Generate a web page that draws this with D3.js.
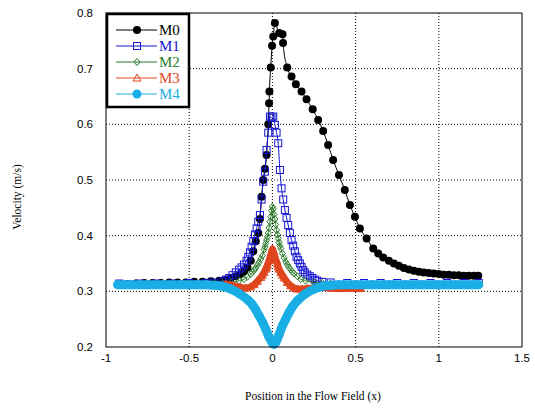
<!DOCTYPE html>
<html lang="en">
<head>
<meta charset="UTF-8">
<title>Velocity</title>
<script src="https://d3js.org/d3.v7.min.js"></script>
<style>
  body { margin: 0; background: #fff; }
  .tick-label { font: 11.5px 'Liberation Sans', Arial, sans-serif; fill: #000; }
  .axis-title { font: 11.5px 'Liberation Serif', 'Times New Roman', serif; fill: #000; }
  .legend-text { font: 15px 'Liberation Serif', 'Times New Roman', serif; }
</style>
</head>
<body>
<script>
// x ticks / y ticks
const xTicks = [-1, -0.5, 0, 0.5, 1, 1.5];
const yTicks = [0.2, 0.3, 0.4, 0.5, 0.6, 0.7, 0.8];
const seriesNames = ["M0", "M1", "M2", "M3", "M4"];

// M0
const m0x = [-0.92, -0.87, -0.82, -0.77, -0.72, -0.67, -0.62, -0.57, -0.52, -0.47, -0.42, -0.37, -0.32, -0.28, -0.25, -0.22,
  -0.19, -0.17, -0.15, -0.13, -0.115, -0.1, -0.085,
  -0.075, -0.065, -0.055, -0.045, -0.035, -0.025, -0.02, -0.018, -0.01, -0.002, 0.005, 0.015, 0.041, 0.061, 0.064,
  0.089, 0.115, 0.141, 0.175, 0.205, 0.242, 0.275, 0.305, 0.335, 0.365, 0.40, 0.435, 0.466, 0.496, 0.526, 0.566,
  0.606, 0.636, 0.666, 0.70, 0.73, 0.76, 0.79, 0.82, 0.85, 0.88, 0.91, 0.94, 0.97, 1.0, 1.03, 1.06, 1.09, 1.12,
  1.15, 1.18, 1.21, 1.237];
const m0y = [0.313, 0.313, 0.314, 0.315, 0.315, 0.315, 0.316, 0.316, 0.316, 0.317, 0.317, 0.318, 0.319, 0.321, 0.324, 0.327,
  0.331, 0.336, 0.343, 0.355, 0.372, 0.39, 0.405,
  0.43, 0.47, 0.50, 0.52, 0.545, 0.60, 0.638, 0.659, 0.702, 0.741, 0.758, 0.782, 0.764, 0.762, 0.746,
  0.702, 0.686, 0.672, 0.659, 0.645, 0.627, 0.608, 0.588, 0.563, 0.536, 0.509, 0.482, 0.455, 0.434, 0.413, 0.395,
  0.377, 0.368, 0.361, 0.355, 0.350, 0.346, 0.342, 0.339, 0.337, 0.335, 0.334, 0.333, 0.332, 0.331, 0.330, 0.330, 0.329, 0.329,
  0.328, 0.328, 0.328, 0.328];

// M1
const m1x = [-0.92, -0.8, -0.7, -0.6, -0.5, -0.4, -0.35, -0.3, -0.28, -0.26, -0.24, -0.22, -0.2, -0.185, -0.17, -0.155,
  -0.145, -0.135, -0.125, -0.115, -0.105, -0.095, -0.085, -0.075, -0.065, -0.055, -0.045, -0.035, -0.025, -0.015,
  -0.005, 0.005, 0.015, 0.025, 0.035, 0.045, 0.055, 0.065, 0.075, 0.085, 0.095, 0.105, 0.115, 0.125, 0.135, 0.145,
  0.155, 0.165, 0.175, 0.185, 0.195, 0.21, 0.225, 0.24, 0.255, 0.27, 0.3, 0.35, 0.45, 0.55, 0.65, 0.75, 0.85, 0.95,
  1.05, 1.15, 1.24];
const m1y = [0.314, 0.314, 0.314, 0.314, 0.315, 0.315, 0.316, 0.318, 0.321, 0.324, 0.329, 0.334, 0.339, 0.343, 0.348, 0.355,
  0.362, 0.37, 0.38, 0.39, 0.402, 0.413, 0.425, 0.437, 0.465, 0.497, 0.515, 0.554, 0.585, 0.614,
  0.612, 0.614, 0.599, 0.585, 0.566, 0.518, 0.485, 0.465, 0.446, 0.432, 0.419, 0.405, 0.392, 0.382, 0.372, 0.362,
  0.356, 0.35, 0.344, 0.338, 0.334, 0.33, 0.327, 0.324, 0.321, 0.319, 0.317, 0.316, 0.315, 0.315, 0.315, 0.315, 0.315, 0.315,
  0.315, 0.315, 0.315];

// M2
const m2x = [-0.92, -0.7, -0.5, -0.3, -0.25, -0.2, -0.17, -0.15, -0.13, -0.12, -0.11, -0.1, -0.09, -0.08, -0.07, -0.06,
  -0.05, -0.045, -0.04, -0.035, -0.03, -0.025, -0.02, -0.015, -0.01, -0.005, 0, 0.005, 0.01, 0.015, 0.02, 0.025,
  0.03, 0.035, 0.04, 0.045, 0.05, 0.06, 0.07, 0.08, 0.09, 0.1, 0.11, 0.12, 0.13, 0.15, 0.17, 0.2,
  0.25, 0.3, 0.35, 0.5, 0.7, 0.9, 1.1, 1.24];
const m2y = [0.314, 0.314, 0.314, 0.315, 0.316, 0.319, 0.322, 0.326, 0.331, 0.334, 0.338, 0.342, 0.347, 0.352, 0.358, 0.364,
  0.375, 0.38, 0.386, 0.392, 0.398, 0.405, 0.414, 0.425, 0.434, 0.445, 0.452, 0.448, 0.438, 0.43, 0.42, 0.41,
  0.402, 0.395, 0.388, 0.382, 0.377, 0.368, 0.36, 0.353, 0.348, 0.343, 0.339, 0.335, 0.332, 0.327, 0.322, 0.319,
  0.316, 0.315, 0.314, 0.314, 0.314, 0.314, 0.314, 0.314];

// M3
const m3x = [-0.28, -0.25, -0.22, -0.19, -0.16, -0.13, -0.11, -0.09, -0.07, -0.06, -0.05, -0.04, -0.035, -0.03, -0.02,
  -0.015, -0.01, -0.005, 0, 0.005, 0.01, 0.015, 0.02, 0.03, 0.035, 0.04, 0.05, 0.06, 0.07, 0.09, 0.11, 0.13, 0.15,
  0.18, 0.21, 0.25, 0.3, 0.35, 0.4, 0.45, 0.5, 0.53];
const m3y = [0.313, 0.311, 0.309, 0.307, 0.306, 0.308, 0.312, 0.318, 0.325, 0.329, 0.334, 0.34, 0.343, 0.347, 0.355,
  0.36, 0.365, 0.37, 0.376, 0.372, 0.368, 0.362, 0.357, 0.349, 0.344, 0.34, 0.334, 0.329, 0.324, 0.316, 0.31, 0.306, 0.304,
  0.304, 0.305, 0.306, 0.307, 0.306, 0.305, 0.305, 0.305, 0.305];

// M4
const m4x = [-0.93, -0.85, -0.75, -0.65, -0.55, -0.45, -0.4, -0.35, -0.3, -0.25, -0.2, -0.15, -0.12, -0.1, -0.08, -0.06,
  -0.04, -0.02, 0, 0.01, 0.02, 0.04, 0.06, 0.08, 0.1, 0.12, 0.15, 0.2, 0.25, 0.3, 0.35, 0.4, 0.5, 0.6, 0.7, 0.8, 0.9,
  1.0, 1.1, 1.2, 1.24];
const m4y = [0.312, 0.312, 0.312, 0.312, 0.312, 0.312, 0.312, 0.311, 0.309, 0.304, 0.296, 0.285, 0.276, 0.267, 0.256, 0.245,
  0.232, 0.218, 0.207, 0.205, 0.208, 0.222, 0.238, 0.25, 0.262, 0.272, 0.283, 0.296, 0.304, 0.309, 0.311, 0.312, 0.312,
  0.312, 0.312, 0.312, 0.312, 0.312, 0.312, 0.312, 0.312];

const colors = ["#000000", "#1414d2", "#2a7a2a", "#e0461e", "#1aaee6"];

var width = 535, height = 408;
var svg = d3.select('body').append('svg')
    .attr('width', width)
    .attr('height', height);

var x = d3.scaleLinear().domain([-1, 1.5]).range([106, 522]);
var y = d3.scaleLinear().domain([0.2, 0.8]).range([347, 13]);

// grid
var grid = svg.append("g");
grid.selectAll(".gx").data(xTicks.slice(1, -1)).join("line")
    .attr("x1", d => x(d)).attr("x2", d => x(d))
    .attr("y1", y(0.8)).attr("y2", y(0.2))
    .attr("stroke", "#000").attr("stroke-width", 1).attr("stroke-dasharray", "1,2");
grid.selectAll(".gy").data(yTicks.slice(1, -1)).join("line")
    .attr("x1", x(-1)).attr("x2", x(1.5))
    .attr("y1", d => y(d)).attr("y2", d => y(d))
    .attr("stroke", "#000").attr("stroke-width", 1).attr("stroke-dasharray", "1,2");

// tick labels
svg.selectAll(".xl").data(xTicks).join("text")
    .attr("class", "tick-label")
    .attr("x", d => x(d)).attr("y", 362)
    .attr("text-anchor", "middle")
    .text(d => String(d));
svg.selectAll(".yl").data(yTicks).join("text")
    .attr("class", "tick-label")
    .attr("x", 93).attr("y", d => y(d) + 4)
    .attr("text-anchor", "end")
    .text(d => d.toFixed(1));

svg.append("text").attr("class", "axis-title")
    .attr("x", 313).attr("y", 400).attr("text-anchor", "middle")
    .text("Position in the Flow Field (x)");
svg.append("text").attr("class", "axis-title")
    .attr("transform", "translate(21,197) rotate(-90)")
    .attr("text-anchor", "middle")
    .text("Velocity (m/s)");

var series = [
  { xs: m0x, ys: m0y, lw: 1 },
  { xs: m1x, ys: m1y, lw: 1 },
  { xs: m2x, ys: m2y, lw: 1 },
  { xs: m3x, ys: m3y, lw: 7 },
  { xs: m4x, ys: m4y, lw: 9 }
];

var line = d3.line().x(d => x(d[0])).y(d => y(d[1])).curve(d3.curveMonotoneX);

function marker(g, i, px, py) {
  var c = colors[i];
  if (i == 0) g.append("circle").attr("cx", px).attr("cy", py).attr("r", 4).attr("fill", c);
  else if (i == 1) g.append("rect").attr("x", px - 3.5).attr("y", py - 3.5).attr("width", 7).attr("height", 7)
      .attr("fill", "none").attr("stroke", c).attr("stroke-width", 1);
  else if (i == 2) g.append("path").attr("d", `M${px},${py - 3.5}L${px + 3},${py}L${px},${py + 3.5}L${px - 3},${py}Z`)
      .attr("fill", "none").attr("stroke", c).attr("stroke-width", 1);
  else if (i == 3) g.append("path").attr("d", `M${px},${py - 4}L${px + 4},${py + 3}L${px - 4},${py + 3}Z`)
      .attr("fill", "none").attr("stroke", c).attr("stroke-width", 1);
  else g.append("circle").attr("cx", px).attr("cy", py).attr("r", 4.5).attr("fill", c);
}

series.forEach(function (s, i) {
  var pts = s.xs.map((v, k) => [v, s.ys[k]]);
  var g = svg.append("g");
  g.append("path").datum(pts)
      .attr("d", line)
      .attr("fill", "none")
      .attr("stroke", colors[i])
      .attr("stroke-width", s.lw)
      .attr("stroke-linecap", "round");
  pts.forEach(p => marker(g, i, x(p[0]), y(p[1])));
});

// frame
svg.append("rect")
    .attr("x", x(-1)).attr("y", y(0.8))
    .attr("width", x(1.5) - x(-1)).attr("height", y(0.2) - y(0.8))
    .attr("fill", "none").attr("stroke", "#000").attr("stroke-width", 1);

// legend
var lg = svg.append("g");
lg.append("rect").attr("x", 107).attr("y", 14).attr("width", 82).attr("height", 93)
    .attr("fill", "#fff").attr("stroke", "#000").attr("stroke-width", 2.5);
seriesNames.forEach(function (n, i) {
  var ly = 30 + i * 16;
  lg.append("line").attr("x1", 116).attr("x2", 157).attr("y1", ly).attr("y2", ly)
      .attr("stroke", colors[i]).attr("stroke-width", 1);
  marker(lg, i, 137, ly);
  lg.append("text").attr("class", "legend-text")
      .attr("x", 159).attr("y", ly + 5)
      .attr("fill", colors[i])
      .text(n);
});
</script>
</body>
</html>
